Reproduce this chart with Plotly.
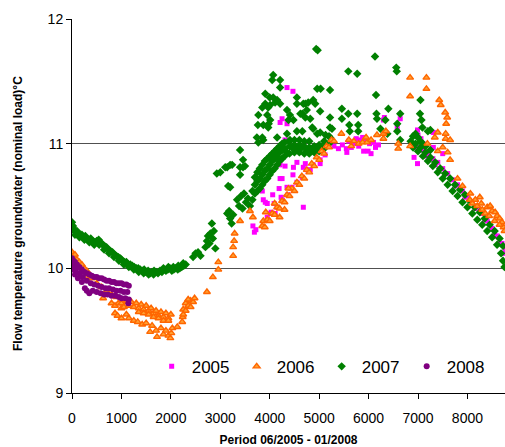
import plotly.graph_objects as go

# ---------------- data (hours since start of year, flow temperature degC) ----------------
# 2005 (magenta squares)
pts_2005_rise = [(3660,10.34),(3690,10.29),(3720,10.31),(3850,10.62),(3910,10.53),(3950,10.52),(4110,10.44),
                 (4060,10.59),(4190,10.64),(4210,10.72),(4250,10.72),(4310,10.82),(4210,10.83),(4350,10.65),
                 (4230,10.57),(4090,10.52),(4470,10.75),(4550,10.85),(4680,10.81),(4720,10.84),(4820,10.79),
                 (5020,10.84),(3950,10.41),(4030,10.45),(4150,10.49),(4250,10.55),(4370,10.59),(4450,10.65),
                 (4550,10.69),(4660,10.73),(4760,10.79),(4880,10.83),(5020,10.87),(5120,10.91),(4480,10.81),
                 (3870,10.55),(4010,10.44),(4680,10.49)]
pts_2005_upper = [(4350,11.45),(4470,11.42),(4250,11.2),(4350,11.16),(4210,11.17),(4310,11.03)]
pts_2005_plateau = [(5390,10.96),(5550,10.96),(5650,10.97),(5830,11.03),(5900,10.94),(5990,10.94),(6140,10.97),
                    (6020,11.0),(5700,11.0),(5470,10.99),(5600,11.02),(5950,11.02),(6100,11.01),(5560,10.93),
                    (6050,10.92),(6200,10.99),(5800,10.98),(5750,11.04),(5880,11.05),(5300,10.98),
                    (6300,11.19),(6320,11.21),(6580,11.13),(6640,11.2),(6990,11.11),(7000,11.07),(7060,11.04),
                    (6920,10.89),(6990,10.84),(7310,11.09),(7310,10.97),(7500,10.92),(6990,10.97),(6870,11.0),
                    (7100,11.0)]
pts_2005_fall = [(7100,10.95),(7200,10.92),(7300,10.88),(7400,10.85),(7500,10.8),(7600,10.76),(7700,10.71),
                 (7800,10.67),(7900,10.62),(8000,10.58),(8100,10.53),(8200,10.49),(8300,10.44),(8400,10.38),
                 (8500,10.32),(8600,10.26),(8700,10.2),(8760,10.16),(7150,10.9),(7350,10.83),(7550,10.76),
                 (7750,10.66),(7950,10.57),(8150,10.48),(8350,10.39),(8550,10.27),(8650,10.2),(8740,10.12)]

# 2006 (orange triangles)
pts_2006_winter = [(0,10.13),(30,10.1),(60,10.11),(100,10.07),(150,10.05),(200,10.03),(250,10.0),(300,9.98),
                   (350,9.95),(280,9.93),(400,9.92),(500,9.88),(600,9.85),(700,9.82),(800,9.79),(900,9.77),
                   (630,9.76),(800,9.72),(870,9.7),(940,9.72),(1000,9.68),(1070,9.73),(1000,9.72),(1050,9.69)]
pts_2006_low = [(1100,9.74),(1150,9.7),(1200,9.73),(1250,9.69),(1300,9.72),(1350,9.68),(1400,9.71),(1450,9.67),
                (1500,9.7),(1550,9.66),(1600,9.68),(1650,9.64),(1700,9.66),(1750,9.62),(1800,9.65),(1850,9.61),
                (1900,9.64),(1950,9.6),(2000,9.63),(1350,9.65),(1450,9.64),(1550,9.63),(1650,9.61),(1750,9.6),
                (1850,9.58),(1950,9.58),(870,9.64),(920,9.62),(1000,9.6),(1100,9.63),(1150,9.6),(1250,9.58),
                (1330,9.57),(1420,9.55),(1500,9.56),(1580,9.49),(1620,9.54),(1700,9.5),(1720,9.45),(1800,9.52),
                (1850,9.47),(1900,9.5),(1950,9.46),(1990,9.44),(2010,9.48),(2030,9.52),(2130,9.53),(2240,9.61),
                (2230,9.57),(2250,9.67),(2300,9.72),(2350,9.7),(2400,9.74),(2450,9.73),(2480,9.76),(2300,9.66),
                (2400,9.69),(2250,9.63),(2350,9.75)]
pts_2006_rise = [(2730,9.81),(2850,9.93),(2960,9.99),(2960,10.05),(3260,10.1),(3260,10.17),(3280,10.22),
                 (3290,10.28),(3400,10.38),(3600,10.46),(3660,10.41),(3870,10.38),
                 (3850,10.34),(3950,10.39),(4050,10.44),(4150,10.49),(4250,10.54),(4350,10.59),(4450,10.64),
                 (4550,10.69),(4650,10.74),(4750,10.79),(4850,10.84),(4950,10.89),(5050,10.94),(5150,10.98),
                 (5250,11.03),(3900,10.33),(4000,10.38),(4100,10.43),(4200,10.48),(4300,10.53),(4400,10.58),
                 (4500,10.62),(4600,10.67),(4700,10.72),(4800,10.77),(4900,10.82),(5000,10.87),(5100,10.92),
                 (5200,10.97),(5300,11.02),(3920,10.45),(4100,10.52),(4380,10.64),(4200,10.41),(4300,10.47)]
pts_2006_summer = [(5450,11.08),(5700,11.02),(5800,11.0),(5880,11.01),(5970,11.01),(6050,11.03),(6170,11.07),
                   (6300,11.08),(6300,11.04),(6350,11.1),(6600,10.96),(6600,11.0),(6840,10.98),(6840,11.53),
                   (7170,11.53),(7170,11.44),(6840,11.38),(7430,11.35),(7460,11.31),(7550,11.25),(7590,11.21),
                   (7570,11.16),(7400,11.09),(7560,11.08),(7560,11.04),(7650,11.03),(7340,11.05),(7190,11.0),
                   (7400,10.94),(5600,11.03),(5650,10.98),(5950,11.05),(7500,10.97),(7600,10.93),(7650,10.87)]
pts_2006_fall = [(8060,10.6),(8050,10.55),(8160,10.55),(8200,10.5),(8280,10.52),(8300,10.47),(8400,10.49),
                 (8460,10.5),(8500,10.46),(8560,10.45),(8600,10.42),(8650,10.4),(8700,10.37),(8730,10.33),
                 (8750,10.3),(8360,10.44),(8440,10.42),(8250,10.57),(8100,10.52),(7900,10.66),(7800,10.72),
                 (8550,10.38),(8650,10.35)]

# 2007 (green diamonds)
pts_2007_winter = [(0,10.37),(0,10.32),(20,10.34),(50,10.31),(80,10.29),(100,10.3),(130,10.28),(160,10.27),
                   (200,10.27),(230,10.25),(270,10.26),(300,10.24),(340,10.23),(380,10.24),(420,10.22),
                   (460,10.21),(500,10.22),(540,10.23),(580,10.21),(620,10.19),(660,10.18),(700,10.17),
                   (740,10.15),(780,10.14),(820,10.13),(860,10.11),(900,10.1),(940,10.09),(980,10.08),
                   (1020,10.06),(1060,10.05),(1100,10.05),(1140,10.03),(1180,10.03),(1220,10.02),(1260,10.01),
                   (1300,10.0),(1340,10.0),(1380,9.99),(1420,9.98),(1460,9.99),(1500,9.97),(1540,9.98),
                   (1580,9.96),(1620,9.97),(1660,9.98),(1700,9.97),(1740,9.96),(1780,9.98),(1820,9.97),
                   (1860,9.99),(1900,9.98),(1940,9.99),(1980,10.0),(2020,9.98),(2060,9.99),(2100,10.0),
                   (2140,9.99),(2180,10.0),(2220,10.01),(2260,10.02),(2300,10.03),
                   (60,10.27),(150,10.25),(250,10.23),(350,10.21),(450,10.19),(550,10.19),(650,10.15),
                   (750,10.12),(850,10.09),(950,10.06),(1050,10.03),(1150,10.01),(1250,9.99),(1350,9.97),
                   (1450,9.96),(1550,9.95),(1650,9.95),(1750,9.97),(1850,10.0),(1950,10.01),(2050,10.01),
                   (2150,10.02),(2250,10.04)]
pts_2007_spring = [(2450,10.09),(2500,10.12),(2550,10.13),(2600,10.1),(2700,10.17),(2730,10.22),(2750,10.26),
                   (2780,10.2),(2800,10.28),(2830,10.36),(2850,10.24),(2870,10.3),(2900,10.16),
                   (3140,10.44),(3180,10.46),(3200,10.4),(3230,10.36),(3260,10.43),(3340,10.55),(3380,10.5),
                   (3420,10.58),(3450,10.48),(3480,10.6),(3520,10.53),(3560,10.56),(3600,10.5),
                   (2930,10.76),(3160,10.66),(3100,10.81),(3200,10.83),(3240,10.83),(3400,10.75),(3460,10.81),
                   (3460,10.87),(3500,10.82),(3400,10.95),(3000,10.77),(3400,10.81),(3200,10.65),(3140,10.81)]
pts_2007_cluster = [(3650,10.55),(3650,10.62),(3700,10.6),(3700,10.67),(3700,10.73),(3750,10.62),(3750,10.7),
                    (3750,10.77),(3800,10.64),(3800,10.72),(3800,10.8),(3850,10.67),(3850,10.75),(3850,10.83),
                    (3900,10.7),(3900,10.78),(3900,10.86),(3950,10.72),(3950,10.8),(3950,10.88),(4000,10.75),
                    (4000,10.83),(4000,10.9),(4050,10.78),(4050,10.86),(4050,10.92),(4100,10.8),(4100,10.88),
                    (4100,10.94),(4150,10.83),(4150,10.9),(4150,10.96),(4200,10.86),(4200,10.93),(4200,10.98),
                    (4250,10.88),(4250,10.95),(4250,11.0),(4300,10.9),(4300,10.96),(4300,11.01),(4350,10.93),
                    (4400,10.92),(4400,10.98),(4400,11.02),(4450,10.97),(4500,10.93),(4500,10.99),(4500,11.03),
                    (4550,10.96),(4600,10.93),(4600,10.99),(4600,11.03),(4650,10.97),(4700,10.92),(4700,10.98),
                    (4700,11.02),(4750,10.95),(4800,10.92),(4800,10.97),(4800,11.02),(4850,10.95),(4900,10.93),
                    (4900,10.98),(4950,10.96),(5000,10.94),(5000,10.99),(5050,10.97),(5100,10.96),(5100,11.02),
                    (5150,11.0),(5200,11.0),(5200,11.06)]
pts_2007_upper = [(3770,11.23),(3760,11.15),(3740,11.05),(3850,11.05),(3870,11.03),(3770,11.01),(3850,11.29),
                  (3910,11.4),(3910,11.32),(3950,11.23),(3970,11.29),(3980,11.16),(3970,11.13),(3870,11.15),
                  (4000,11.37),(4010,11.31),(4010,11.19),(4050,11.51),(4070,11.55),(4070,11.37),(4110,11.33),
                  (4150,11.35),(4150,11.05),(4210,11.45),(4210,11.51),(4210,11.32),(4350,11.27),(4350,11.08),
                  (4380,11.19),(4410,11.23),(4410,11.03),(4480,11.19),(4550,11.37),(4550,11.32),(4550,11.1),
                  (4620,11.24),(4660,11.24),(4660,11.1),(4680,11.32),(4720,11.32),(4720,11.21),(4750,11.27),
                  (4780,11.33),(4820,11.2),(4860,11.13),(4880,11.35),(4880,11.12),(4920,11.32),(4940,11.76),
                  (4970,11.75),(4960,11.44),(4960,11.08),(5020,11.26),(5020,11.09),(5030,11.44),(5130,11.07),
                  (5220,11.43),(5220,11.21),(5220,11.13),(5220,11.05),(5260,11.12),(5460,11.28),(5460,11.2),
                  (5590,11.58),(5590,11.24),(5610,11.15),(5620,11.1),(5770,11.56),(5770,11.24),(5790,11.15),
                  (5790,11.1),(6130,11.7),(6150,11.39),(6160,11.24),(6170,11.2),(6240,11.12),(6340,11.19),
                  (6380,11.08),(6400,11.28),(6560,11.61),(6570,11.58),(6580,11.16),(6580,11.1),(6640,11.24),
                  (6640,11.03),(7050,11.35),(7040,11.24),(7070,11.19),(7090,11.13),(7200,11.1),(7250,11.11)]
pts_2007_fall = [(6850,11.02),(6900,11.06),(6950,11.08),(7000,11.05),(7050,11.02),(7100,11.0),(7150,10.98),
                 (7250,10.95),(6900,10.97),
                 (6950,11.0),(7050,10.97),(7150,10.93),(7250,10.89),(7350,10.85),(7450,10.8),(7550,10.76),
                 (7650,10.72),(7750,10.67),(7850,10.63),(7950,10.59),(8050,10.54),(8150,10.49),(8250,10.45),
                 (8350,10.4),(8450,10.35),(8550,10.3),(8650,10.24),(8720,10.18),
                 (7000,10.94),(7100,10.9),(7200,10.86),(7300,10.82),(7400,10.77),(7500,10.72),(7600,10.67),
                 (7700,10.62),(7800,10.58),(7900,10.53),(8000,10.49),(8100,10.44),(8200,10.39),(8300,10.35),
                 (8400,10.3),(8500,10.25),(8600,10.19),(8680,10.12),(8720,10.06),(8750,10.01)]

# 2008 (purple circles)
pts_2008 = [(0,10.08),(30,10.06),(60,10.05),(100,10.03),(150,10.01),(200,9.99),(250,9.97),(300,9.96),
            (350,9.95),(400,9.94),(450,9.93),(500,9.93),(550,9.92),(600,9.92),(650,9.91),(700,9.9),
            (750,9.9),(800,9.89),(850,9.89),(900,9.88),(950,9.88),(1000,9.88),(1050,9.87),(1100,9.87),
            (1150,9.86),(20,10.02),(80,9.99),(150,9.96),(220,9.93),(300,9.9),(380,9.88),(450,9.87),
            (530,9.86),(600,9.85),(680,9.84),(750,9.84),(830,9.83),(900,9.82),(980,9.82),(1050,9.81),
            (1120,9.81),(0,9.99),(60,9.95),(120,9.92),(200,9.89),(260,9.84),(300,9.82),(350,9.8),
            (420,9.82),(500,9.81),(580,9.8),(650,9.79),(720,9.79),(800,9.78),(880,9.78),(950,9.77),
            (1000,9.76),(1080,9.76),(1150,9.75),(1140,9.72)]

x_ticks = [0, 1000, 2000, 3000, 4000, 5000, 6000, 7000, 8000]
y_ticks = [9, 10, 11, 12]


def xs(*segs):
    return [p[0] for s in segs for p in s]


def ys(*segs):
    return [p[1] for s in segs for p in s]


s05 = (pts_2005_rise, pts_2005_upper, pts_2005_plateau, pts_2005_fall)
s06 = (pts_2006_winter, pts_2006_low, pts_2006_rise, pts_2006_summer, pts_2006_fall)
s07 = (pts_2007_winter, pts_2007_spring, pts_2007_cluster, pts_2007_upper, pts_2007_fall)
s08 = (pts_2008,)

fig = go.Figure()
fig.add_trace(go.Scatter(x=xs(*s05), y=ys(*s05), mode="markers", name="2005", legendrank=1,
                         marker=dict(symbol="square", size=5, color="#FF00FF")))
fig.add_trace(go.Scatter(x=xs(*s07), y=ys(*s07), mode="markers", name="2007", legendrank=3,
                         marker=dict(symbol="diamond", size=6.5, color="#008000")))
fig.add_trace(go.Scatter(x=xs(*s06), y=ys(*s06), mode="markers", name="2006", legendrank=2,
                         marker=dict(symbol="triangle-up", size=6, color="#FFA030",
                                     line=dict(color="#FF6600", width=1.4))))
fig.add_trace(go.Scatter(x=xs(*s08), y=ys(*s08), mode="markers", name="2008", legendrank=4,
                         marker=dict(symbol="circle", size=6, color="#800080")))

fig.update_layout(
    width=505, height=447,
    margin=dict(l=72, r=0, t=19, b=54, autoexpand=False),
    paper_bgcolor="white", plot_bgcolor="white",
    font=dict(family="Liberation Sans, Arial, sans-serif", color="black"),
    showlegend=True,
    legend=dict(orientation="h", x=0.184, xanchor="left", y=0.07, yanchor="middle",
                font=dict(size=17), bgcolor="rgba(0,0,0,0)", entrywidth=40,
                itemsizing="trace"),
    xaxis=dict(range=[0, 8760], tickvals=x_ticks, ticks="outside", ticklen=5, tickcolor="black",
               showline=True, linecolor="black", linewidth=1, showgrid=False, zeroline=False,
               tickfont=dict(size=14), automargin=False, ticklabelstandoff=7,
               title=dict(text="<b>Period 06/2005 - 01/2008</b>", font=dict(size=12), standoff=12)),
    yaxis=dict(range=[9, 12], tickvals=y_ticks, ticks="outside", ticklen=5, tickcolor="black",
               showline=True, linecolor="black", linewidth=1, showgrid=True, gridcolor="#505050",
               gridwidth=1, zeroline=False, tickfont=dict(size=14), automargin=False),
    annotations=[dict(text="<b>Flow temperature groundwater (nominal load)°C</b>",
                      xref="paper", yref="paper", x=-0.1247, y=0.4786,
                      xanchor="center", yanchor="middle", textangle=-90,
                      showarrow=False, font=dict(size=12))],
)

# Remove the default 8px page margin so the 505x447 figure fills the window exactly.
fig.write_html("out.html", config={"displayModeBar": False},
               post_script="document.body.style.margin='0';")
